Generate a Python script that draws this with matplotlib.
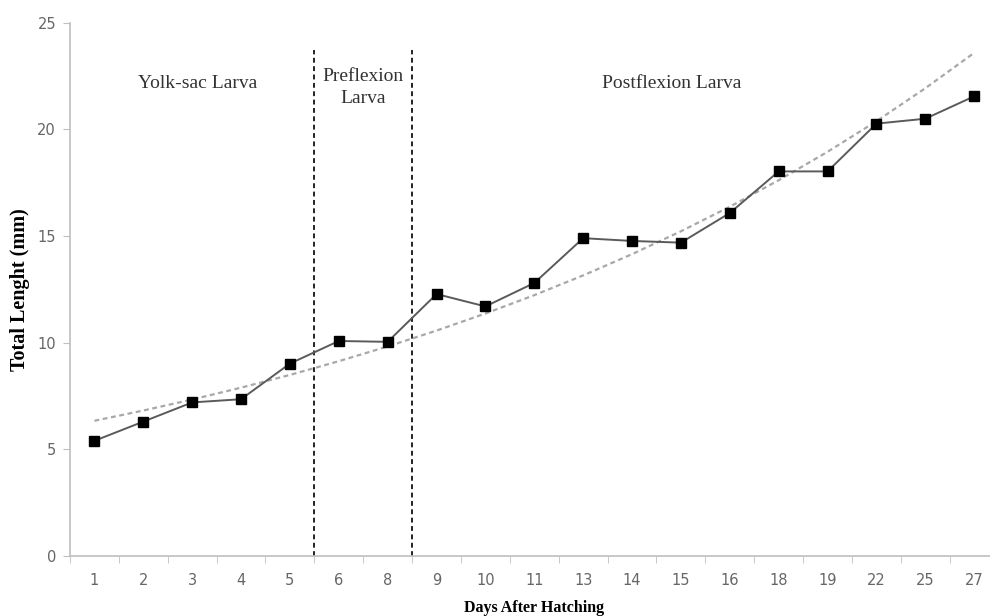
import matplotlib.pyplot as plt
import numpy as np

# Data
days = ['1', '2', '3', '4', '5', '6', '8', '9', '10', '11', '13', '14', '15', '16', '18', '19', '22', '25', '27']
total_length = [5.4, 6.3, 7.2, 7.35, 9.02, 10.08, 10.04, 12.28, 11.7, 12.8, 14.9, 14.77, 14.69, 16.08, 18.03, 18.03, 20.27, 20.5, 21.55]

# stage boundaries (between these category positions)
stage_bounds = [4.5, 6.5]
stage_names = ['Yolk-sac Larva', 'Preflexion\nLarva', 'Postflexion Larva']
stage_label_x = [2.12, 5.5, 11.81]
stage_label_y = [22.15, 21.95, 22.15]

x = np.arange(len(days))
y = np.array(total_length)

# exponential trend line (like Excel's)
k, b = np.polyfit(x, np.log(y), 1)
trend = np.exp(b + k * x)

fig = plt.figure(figsize=(9.9, 6.16), dpi=100)
ax = fig.add_axes([0.0707, 0.0974, 0.938, 0.8657])

ax.plot(x, trend, color='#a8a8a8', linestyle=(0, (2.2, 1.6)), linewidth=1.6, zorder=2)
ax.plot(x, y, color='#5a5a5a', linewidth=1.4, marker='s', markersize=6.8,
        markerfacecolor='black', markeredgecolor='black', zorder=3)

for xb in stage_bounds:
    ax.plot([xb, xb], [0, 23.7], color='#222222', linestyle=(0, (2.5, 1.8)), linewidth=1.4, zorder=1)

for name, tx, ty in zip(stage_names, stage_label_x, stage_label_y):
    ax.text(tx, ty, name, ha='center', va='center', family='Liberation Serif',
            fontsize=14, color='#333333', linespacing=1.4)

ax.set_xlim(-0.5, len(days) - 0.5)
ax.set_ylim(0, 25)
ax.set_yticks([0, 5, 10, 15, 20, 25])
ax.set_xticks(x)
ax.set_xticklabels(days)
ax.set_xticks(np.arange(-0.5, len(days), 1), minor=True)
ax.tick_params(axis='x', which='major', length=0, pad=12)
ax.tick_params(axis='x', which='minor', length=5, color='#bfbfbf', direction='out')
ax.tick_params(axis='y', length=5, color='#bfbfbf', pad=5)
ax.tick_params(labelsize=10.5, labelcolor='#666666')

for s in ['top', 'right']:
    ax.spines[s].set_visible(False)
for s in ['left', 'bottom']:
    ax.spines[s].set_color('#bfbfbf')
    ax.spines[s].set_linewidth(1.2)

ax.set_xlabel('Days After Hatching', family='Liberation Serif', fontweight='bold', fontsize=11.5, labelpad=9)
ax.set_ylabel('Total Lenght (mm)', family='Liberation Serif', fontweight='bold', fontsize=14.5)
ax.yaxis.set_label_coords(-0.043, 0.5)

fig.savefig('out.png', dpi=100)
